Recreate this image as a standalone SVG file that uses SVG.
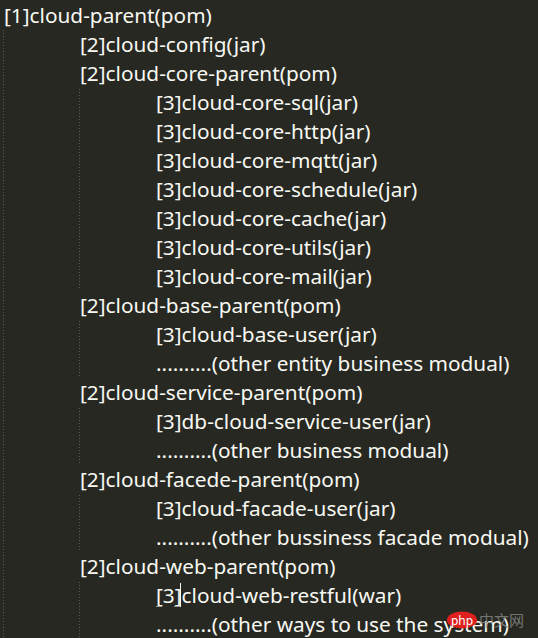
<svg xmlns="http://www.w3.org/2000/svg" width="538" height="638" viewBox="0 0 538 638">
<style>
text.t { font-family: "Noto Sans", "Open Sans", sans-serif; font-size: 20.8px; fill: #f8f8f2; }
.g { stroke: #5a5a52; stroke-width: 1; stroke-dasharray: 1 2; fill: none; }
</style>
<rect width="538" height="638" fill="#272822"/>
<g id="guides">
<line class="g" x1="3.5" y1="30" x2="3.5" y2="638"/>
<line class="g" x1="79.5" y1="89" x2="79.5" y2="290"/>
<line class="g" x1="79.5" y1="321" x2="79.5" y2="377"/>
<line class="g" x1="79.5" y1="408" x2="79.5" y2="464"/>
<line class="g" x1="79.5" y1="495" x2="79.5" y2="551"/>
<line class="g" x1="79.5" y1="582" x2="79.5" y2="638"/>
</g>
<g id="n0"><text class="t" x="4" y="23">[1]cloud-parent(pom)</text></g>
<g id="n1"><text class="t" x="80" y="52">[2]cloud-config(jar)</text></g>
<g id="n2"><text class="t" x="80" y="81">[2]cloud-core-parent(pom)</text></g>
<g id="n3"><text class="t" x="156" y="110">[3]cloud-core-sql(jar)</text></g>
<g id="n4"><text class="t" x="156" y="139">[3]cloud-core-http(jar)</text></g>
<g id="n5"><text class="t" x="156" y="168">[3]cloud-core-mqtt(jar)</text></g>
<g id="n6"><text class="t" x="156" y="197">[3]cloud-core-schedule(jar)</text></g>
<g id="n7"><text class="t" x="156" y="226">[3]cloud-core-cache(jar)</text></g>
<g id="n8"><text class="t" x="156" y="255">[3]cloud-core-utils(jar)</text></g>
<g id="n9"><text class="t" x="156" y="284">[3]cloud-core-mail(jar)</text></g>
<g id="n10"><text class="t" x="80" y="313">[2]cloud-base-parent(pom)</text></g>
<g id="n11"><text class="t" x="156" y="342">[3]cloud-base-user(jar)</text></g>
<g id="n12"><text class="t" x="156" y="371">..........(other entity business modual)</text></g>
<g id="n13"><text class="t" x="80" y="400">[2]cloud-service-parent(pom)</text></g>
<g id="n14"><text class="t" x="156" y="429">[3]db-cloud-service-user(jar)</text></g>
<g id="n15"><text class="t" x="156" y="458">..........(other business modual)</text></g>
<g id="n16"><text class="t" x="80" y="487">[2]cloud-facede-parent(pom)</text></g>
<g id="n17"><text class="t" x="156" y="516">[3]cloud-facade-user(jar)</text></g>
<g id="n18"><text class="t" x="156" y="545">..........(other bussiness facade modual)</text></g>
<g id="n19"><text class="t" x="80" y="574">[2]cloud-web-parent(pom)</text></g>
<g id="n20"><text class="t" x="156" y="603">[3]cloud-web-restful(war)</text></g>
<g id="n21"><text class="t" x="156" y="632">..........(other ways to use the system)</text></g>
<g id="cursor">
<line x1="180.5" y1="583" x2="180.5" y2="607" stroke="#f8f8f0" stroke-width="1"/>
<line x1="156" y1="606.5" x2="162" y2="606.5" stroke="#9a9a90" stroke-width="1"/>
<line x1="174" y1="606.5" x2="180" y2="606.5" stroke="#9a9a90" stroke-width="1"/>
</g>
<g id="watermark">
<ellipse cx="462" cy="620" rx="15" ry="8.5" fill="#e0201e"/>
<text x="462" y="625" text-anchor="middle" font-family="Noto Sans, sans-serif" font-size="12" fill="#ffffff">php</text>
<text x="479" y="626" font-family="Noto Sans CJK SC, sans-serif" font-size="15" fill="#8a8a86" fill-opacity="0.8">中文网</text>
</g>
</svg>
